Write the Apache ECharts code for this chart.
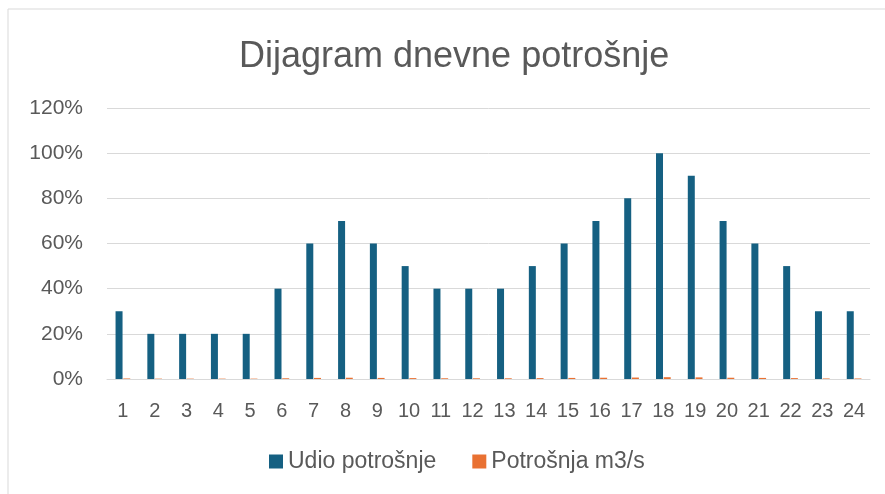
<!DOCTYPE html>
<html>
<head>
<meta charset="utf-8">
<script src="https://cdn.jsdelivr.net/npm/echarts@6/dist/echarts.min.js"></script>
<style>
html,body{margin:0;padding:0;background:#fff;}
#c{width:885px;height:494px;}
</style>
</head>
<body>
<div id="c"></div>
<script>
const categories = ['1','2','3','4','5','6','7','8','9','10','11','12','13','14','15','16','17','18','19','20','21','22','23','24'];
const udioPotrosnje = [0.30,0.20,0.20,0.20,0.20,0.40,0.60,0.70,0.60,0.50,0.40,0.40,0.40,0.50,0.60,0.70,0.80,1.00,0.90,0.70,0.60,0.50,0.30,0.30];
const potrosnjaM3s = [0.0024,0.0016,0.0016,0.0016,0.0016,0.0032,0.0048,0.0056,0.0048,0.004,0.0032,0.0032,0.0032,0.004,0.0048,0.0056,0.0064,0.008,0.0072,0.0056,0.0048,0.004,0.0024,0.0024];
const yTicks = [0,0.2,0.4,0.6,0.8,1.0,1.2];

const font = '"Liberation Sans", Arial, sans-serif';
const txt = '#595959';
const chart = echarts.init(document.getElementById('c'), null, {renderer:'canvas'});
chart.setOption({
  animation:false,
  backgroundColor:'#fff',
  graphic:[{type:'rect',shape:{x:8,y:9,width:900,height:500},style:{fill:'none',stroke:'#d9d9d9',lineWidth:1}}],
  title:{text:'Dijagram dnevne potrošnje',left:234,top:34,textStyle:{fontFamily:font,fontSize:36,fontWeight:'normal',color:txt}},
  legend:{bottom:16,left:264,itemWidth:14,itemHeight:14,itemGap:36,icon:'rect',
    textStyle:{fontFamily:font,fontSize:23,color:txt,padding:[0,0,0,0]},
    data:['Udio potrošnje','Potrošnja m3/s']},
  grid:{left:107,right:15,top:108,bottom:115,containLabel:false},
  xAxis:{type:'category',data:categories,
    axisLine:{lineStyle:{color:'#d9d9d9',width:1}},axisTick:{show:false},
    axisLabel:{fontFamily:font,fontSize:20,color:txt,margin:22,interval:0}},
  yAxis:{type:'value',min:yTicks[0],max:yTicks[yTicks.length-1],interval:0.2,
    axisLine:{show:false},axisTick:{show:false},
    splitLine:{lineStyle:{color:'#d9d9d9',width:1}},
    axisLabel:{fontFamily:font,fontSize:21,color:txt,margin:24,formatter:v=>Math.round(v*100)+'%'}},
  series:[
    {name:'Udio potrošnje',type:'bar',data:udioPotrosnje,barWidth:7,barGap:'10%',itemStyle:{color:'#156082'}},
    {name:'Potrošnja m3/s',type:'bar',data:potrosnjaM3s,barWidth:7,barGap:'10%',itemStyle:{color:'#E97132'}}
  ]
});
</script>
</body>
</html>
